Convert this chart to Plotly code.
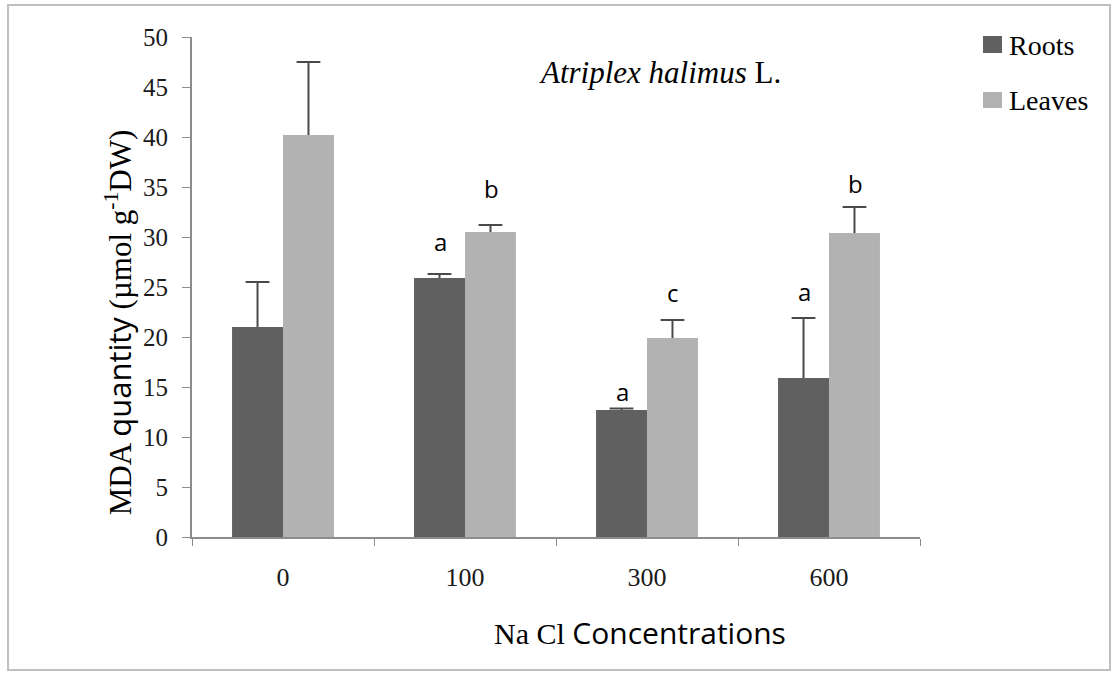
import plotly.graph_objects as go

categories = ["0", "100", "300", "600"]
roots = [21.0, 25.9, 12.7, 15.9]
roots_err = [4.5, 0.4, 0.15, 6.0]
leaves = [40.2, 30.5, 19.9, 30.4]
leaves_err = [7.3, 0.7, 1.8, 2.6]
roots_letters = ["", "a", "a", "a"]
leaves_letters = ["", "b", "c", "b"]
roots_letter_y = [None, 29.6, 14.6, 24.6]
leaves_letter_y = [None, 34.9, 24.5, 35.4]
series_names = ["Roots", "Leaves"]
series_colors = ["#606060", "#b2b2b2"]

SERIF = "Liberation Serif"
SANS = "Open Sans"
ERR_COLOR = "#4a4a4a"

fig = go.Figure()
for name, vals, color in [(series_names[0], roots, series_colors[0]),
                          (series_names[1], leaves, series_colors[1])]:
    fig.add_trace(go.Bar(x=categories, y=vals, name=name, showlegend=False,
                         marker=dict(color=color, line=dict(width=0))))

# upper error bars: vertical line from bar top to cap, cap drawn as a horizontal marker
for name, vals, errs in [(series_names[0], roots, roots_err), (series_names[1], leaves, leaves_err)]:
    tops = [v + e for v, e in zip(vals, errs)]
    fig.add_trace(go.Scatter(
        x=categories, y=tops, mode="markers", name=name + " SE", showlegend=False,
        marker=dict(symbol="line-ew", size=17, color=ERR_COLOR, line=dict(width=2, color=ERR_COLOR)),
        error_y=dict(type="data", symmetric=False, array=[0] * len(errs), arrayminus=errs,
                     width=0, thickness=2, color=ERR_COLOR),
        hoverinfo="skip",
    ))

annotations = []
for i, c in enumerate(categories):
    if roots_letters[i]:
        annotations.append(dict(x=i, y=roots_letter_y[i], text=roots_letters[i], showarrow=False,
                                xshift=-25, font=dict(family=SANS, size=24, color="black")))
    if leaves_letters[i]:
        annotations.append(dict(x=i, y=leaves_letter_y[i], text=leaves_letters[i], showarrow=False,
                                xshift=26, font=dict(family=SANS, size=24, color="black")))

# title, axis titles
annotations.append(dict(xref="paper", yref="paper", x=0.643, y=0.928, xanchor="center", yanchor="middle",
                        text="<i>Atriplex halimus</i> L.", showarrow=False,
                        font=dict(family=SERIF, size=31, color="black")))
annotations.append(dict(xref="paper", yref="paper", x=0.615, y=-0.19, xanchor="center", yanchor="middle",
                        text='Na Cl <span style="font-family:Open Sans">Concentrations</span>', showarrow=False,
                        font=dict(family=SERIF, size=30, color="black")))
annotations.append(dict(xref="paper", yref="paper", x=-0.1, y=0.43, xanchor="center", yanchor="middle",
                        textangle=-90,
                        text='MDA <span style="font-family:Open Sans">quantity</span> (µmol g<sup>-1</sup>DW)',
                        showarrow=False, font=dict(family=SERIF, size=31, color="black")))

# legend (square swatch + label)
legend_rows = [(1.002, 0.968, 0.984), (0.890, 0.858, 0.874)]
shapes = [dict(type="rect", xref="paper", yref="paper", x0=-0.2527, x1=1.261, y0=-0.266, y1=1.064,
               line=dict(color="#c0c0c0", width=2), fillcolor="rgba(0,0,0,0)", layer="below")]
for (y1, y0, yc), name, color in zip(legend_rows, series_names, series_colors):
    shapes.append(dict(type="rect", xref="paper", yref="paper", x0=1.0865, x1=1.1126, y0=y0, y1=y1,
                       line=dict(width=0), fillcolor=color))
    annotations.append(dict(xref="paper", yref="paper", x=1.1195, y=yc, xanchor="left", yanchor="middle",
                            text=name, showarrow=False, font=dict(family=SERIF, size=28, color="black")))

fig.update_layout(
    width=1113, height=675,
    margin=dict(l=192, r=193, t=37, b=138, autoexpand=False),
    paper_bgcolor="white", plot_bgcolor="white",
    barmode="group", bargap=0.44, bargroupgap=0,
    scattermode="group", scattergap=0.44,
    showlegend=False,
    annotations=annotations,
    shapes=shapes,
)
fig.update_xaxes(
    type="category", range=[-0.5, 3.5], showline=True, linecolor="#8c8c8c", linewidth=2,
    ticks="outside", ticklen=7, tickcolor="#8c8c8c", tickwidth=1, tickson="boundaries",
    tickfont=dict(family=SERIF, size=26, color="#1a1a1a"), ticklabelstandoff=16,
    showgrid=False, zeroline=False,
)
fig.update_yaxes(
    range=[0, 50], dtick=5, tick0=0, showline=True, linecolor="#8c8c8c", linewidth=2,
    ticks="outside", ticklen=8, tickcolor="#8c8c8c", tickwidth=1,
    tickfont=dict(family=SERIF, size=25, color="#1a1a1a"), ticklabelstandoff=9,
    showgrid=False, zeroline=False,
)

fig.write_html("out.html", config={"displayModeBar": False},
               post_script="document.body.style.margin='0';")
